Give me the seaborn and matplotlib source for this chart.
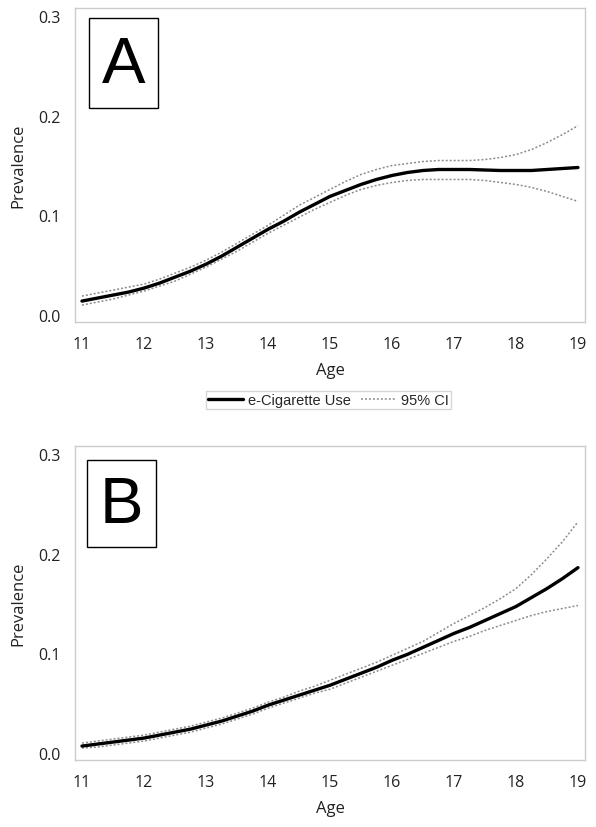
import numpy as np
import pandas as pd
import matplotlib
matplotlib.use("Agg")
import matplotlib.pyplot as plt
from matplotlib.patches import Rectangle
import seaborn as sns

# ------------------- données -------------------
age = [11, 11.25, 11.5, 11.75, 12, 12.25, 12.5, 12.75, 13, 13.25, 13.5, 13.75,
       14, 14.25, 14.5, 14.75, 15, 15.25, 15.5, 15.75, 16, 16.25, 16.5, 16.75,
       17, 17.25, 17.5, 17.75, 18, 18.25, 18.5, 18.75, 19]

# Panneau A
prev_a = [0.014, 0.017, 0.020, 0.023, 0.027, 0.032, 0.038, 0.044, 0.051, 0.059, 0.068, 0.077,
          0.086, 0.094, 0.103, 0.111, 0.119, 0.125, 0.131, 0.136, 0.140, 0.143, 0.145, 0.146,
          0.146, 0.146, 0.1455, 0.145, 0.145, 0.145, 0.146, 0.147, 0.148]
upper_a = [0.019, 0.022, 0.025, 0.028, 0.031, 0.036, 0.042, 0.048, 0.055, 0.063, 0.072, 0.081,
           0.090, 0.100, 0.110, 0.118, 0.126, 0.134, 0.141, 0.146, 0.150, 0.152, 0.154, 0.155,
           0.155, 0.155, 0.156, 0.158, 0.161, 0.166, 0.173, 0.181, 0.190]
lower_a = [0.010, 0.013, 0.016, 0.020, 0.024, 0.029, 0.034, 0.041, 0.048, 0.056, 0.064, 0.073,
           0.082, 0.090, 0.098, 0.106, 0.113, 0.120, 0.126, 0.130, 0.133, 0.135, 0.136, 0.136,
           0.136, 0.136, 0.135, 0.133, 0.131, 0.128, 0.124, 0.119, 0.114]

# Panneau B
prev_b = [0.007, 0.009, 0.011, 0.013, 0.015, 0.018, 0.021, 0.024, 0.028, 0.032, 0.037, 0.042,
          0.048, 0.053, 0.058, 0.063, 0.068, 0.074, 0.080, 0.086, 0.093, 0.099, 0.106, 0.113,
          0.120, 0.126, 0.133, 0.140, 0.147, 0.156, 0.165, 0.175, 0.186]
upper_b = [0.010, 0.012, 0.014, 0.016, 0.018, 0.021, 0.024, 0.027, 0.031, 0.035, 0.040, 0.045,
           0.051, 0.056, 0.062, 0.067, 0.073, 0.079, 0.085, 0.091, 0.098, 0.105, 0.112, 0.121,
           0.130, 0.138, 0.146, 0.155, 0.165, 0.179, 0.195, 0.212, 0.232]
lower_b = [0.005, 0.006, 0.008, 0.010, 0.012, 0.015, 0.018, 0.021, 0.025, 0.029, 0.034, 0.039,
           0.045, 0.050, 0.055, 0.060, 0.064, 0.070, 0.076, 0.082, 0.088, 0.094, 0.100, 0.106,
           0.112, 0.117, 0.123, 0.128, 0.133, 0.138, 0.142, 0.145, 0.148]

panels = ["A", "B"]
x_ticks = [11, 12, 13, 14, 15, 16, 17, 18, 19]
y_ticks = [0.0, 0.1, 0.2, 0.3]
legend_labels = ["e-Cigarette Use", "95% CI"]

# ------------------- style -------------------
sns.set_style("white")
plt.rcParams['font.family'] = ['Open Sans', 'DejaVu Sans']

frame_col = "#cccccc"
ci_col = "#8c8c8c"
txt_col = "#222222"

fig = plt.figure(figsize=(5.96, 8.28), dpi=100)
ax_a = fig.add_axes([0.1258, 0.6099, 0.8557, 0.3792])
ax_b = fig.add_axes([0.1258, 0.0809, 0.8557, 0.3792])

data = {
    "A": pd.DataFrame({"Age": age, "prev": prev_a, "up": upper_a, "lo": lower_a}),
    "B": pd.DataFrame({"Age": age, "prev": prev_b, "up": upper_b, "lo": lower_b}),
}
# cadre de la lettre (fractions des axes) : x0, y0, largeur, hauteur
letter_box = {"A": (0.0275, 0.6815, 0.1352, 0.2865),
              "B": (0.0235, 0.6780, 0.1353, 0.2770)}

for ax, name in zip([ax_a, ax_b], panels):
    df = data[name]
    sns.lineplot(data=df, x="Age", y="prev", ax=ax, color="black", lw=2.4,
                 label=legend_labels[0], zorder=3)
    sns.lineplot(data=df, x="Age", y="up", ax=ax, color=ci_col, lw=1.1,
                 linestyle=(0, (1.3, 1.3)), label=legend_labels[1], zorder=2)
    sns.lineplot(data=df, x="Age", y="lo", ax=ax, color=ci_col, lw=1.1,
                 linestyle=(0, (1.3, 1.3)), zorder=2)

    ax.set_xlim(10.887, 19.113)
    ax.set_ylim(-0.007, 0.308)
    ax.set_xticks(x_ticks)
    ax.set_xticklabels([str(t) for t in x_ticks])
    ax.set_yticks(y_ticks)
    ax.set_yticklabels([f"{t:.1f}" for t in y_ticks])
    ax.tick_params(direction="out", length=4, width=0.8, color=frame_col,
                   labelsize=11.5, labelcolor=txt_col, pad=6)
    for s in ax.spines.values():
        s.set_color(frame_col)
        s.set_linewidth(1.0)
    ax.set_xlabel("Age", fontsize=12, color=txt_col, labelpad=7)
    ax.set_ylabel("Prevalence", fontsize=12, color=txt_col, labelpad=9)

    # lettre du panneau dans un cadre
    x0, y0, w, h = letter_box[name]
    ax.add_patch(Rectangle((x0, y0), w, h, transform=ax.transAxes, fill=True,
                           fc="white", ec="black", lw=1.0, zorder=4))
    ax.text(x0 + w / 2, y0 + h / 2 - 0.005, name, transform=ax.transAxes,
            fontsize=47, family="Liberation Sans", color="black",
            ha="center", va="center", zorder=5)

    leg = ax.get_legend()
    if leg is not None:
        leg.remove()

# légende commune sous le panneau A
handles, labels = ax_a.get_legend_handles_labels()
fig.legend(handles, labels, loc="center", bbox_to_anchor=(0.551, 0.5155), ncol=2,
           frameon=True, fancybox=False, edgecolor=frame_col,
           prop={"family": "Liberation Sans", "size": 10.5},
           handlelength=2.4, columnspacing=0.7, handletextpad=0.35,
           borderpad=0.15, borderaxespad=0.0)

plt.savefig("out.png", dpi=100)
